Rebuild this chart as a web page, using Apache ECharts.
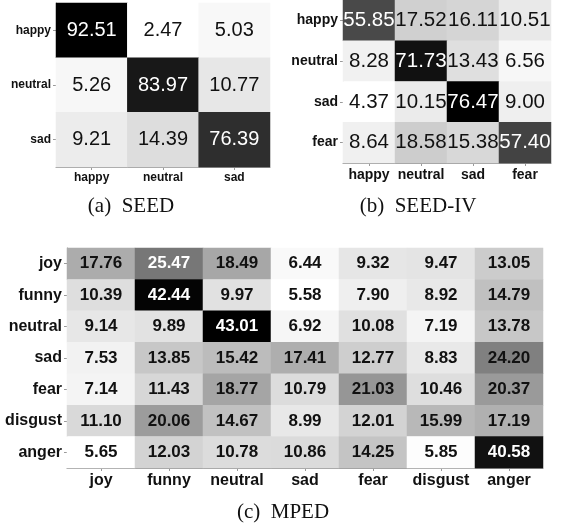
<!DOCTYPE html>
<html><head><meta charset="utf-8">
<script src="https://cdn.jsdelivr.net/npm/echarts@6/dist/echarts.min.js"></script>
<style>html,body{margin:0;padding:0;background:#fff}#c{width:564px;height:528px}</style>
</head><body><div id="c"></div>
<script>
const seedLabels = ['happy','neutral','sad'];
const seedValues = [
  [92.51, 2.47, 5.03],
  [5.26, 83.97, 10.77],
  [9.21, 14.39, 76.39]
];
const seed4Labels = ['happy','neutral','sad','fear'];
const seed4Values = [
  [55.85, 17.52, 16.11, 10.51],
  [8.28, 71.73, 13.43, 6.56],
  [4.37, 10.15, 76.47, 9.00],
  [8.64, 18.58, 15.38, 57.40]
];
const mpedLabels = ['joy','funny','neutral','sad','fear','disgust','anger'];
const mpedValues = [
  [17.76, 25.47, 18.49, 6.44, 9.32, 9.47, 13.05],
  [10.39, 42.44, 9.97, 5.58, 7.90, 8.92, 14.79],
  [9.14, 9.89, 43.01, 6.92, 10.08, 7.19, 13.78],
  [7.53, 13.85, 15.42, 17.41, 12.77, 8.83, 24.20],
  [7.14, 11.43, 18.77, 10.79, 21.03, 10.46, 20.37],
  [11.10, 20.06, 14.67, 8.99, 12.01, 15.99, 17.19],
  [5.65, 12.03, 10.78, 10.86, 14.25, 5.85, 40.58]
];
const captions = ['(a)  SEED', '(b)  SEED-IV', '(c)  MPED'];

function build(mat) {
  const flat = mat.flat();
  const mn = Math.min(...flat), mx = Math.max(...flat);
  const data = [];
  mat.forEach((row, r) => row.forEach((v, c) => {
    const t = (v - mn) / (mx - mn);
    data.push({ value: [c, r, v], label: { color: t > 0.5 ? '#ffffff' : '#111111' } });
  }));
  return { data, mn, mx };
}
const sets = [build(seedValues), build(seed4Values), build(mpedValues)];
const labelsAll = [seedLabels, seed4Labels, mpedLabels];
const grids = [
  { left: 56, top: 3, width: 214, height: 164 },
  { left: 343, top: 0, width: 208, height: 163 },
  { left: 67, top: 248, width: 476, height: 220 }
];
const axisFont = [12, 14, 16];
const cellFont = [20, 20.5, 17];
const cellWeight = ['normal', 'normal', 'bold'];
const capPos = [[131, 206], [418, 206], [283, 512]];

const axisCommon = (i) => ({
  axisLine: { show: true, lineStyle: { color: '#9a9a9a' } },
  axisTick: { show: true, alignWithLabel: true, length: 3, lineStyle: { color: '#9a9a9a' } },
  axisLabel: { interval: 0, hideOverlap: false, fontFamily: 'Liberation Sans, Arial, sans-serif', fontWeight: 'bold', fontSize: axisFont[i], color: '#111', margin: 5 },
  splitLine: { show: false }, splitArea: { show: false }
});

const option = {
  animation: false,
  backgroundColor: '#ffffff',
  grid: grids,
  xAxis: labelsAll.map((l, i) => Object.assign({ type: 'category', data: l, gridIndex: i, position: 'bottom' }, axisCommon(i))),
  yAxis: labelsAll.map((l, i) => Object.assign({ type: 'category', data: l, gridIndex: i, inverse: true }, axisCommon(i))),
  visualMap: sets.map((s, i) => ({
    show: false, type: 'continuous', seriesIndex: i, min: s.mn, max: s.mx, dimension: 2,
    inRange: { color: ['#ffffff', '#000000'] }
  })),
  series: sets.map((s, i) => ({
    type: 'heatmap', xAxisIndex: i, yAxisIndex: i, data: s.data,
    label: {
      show: true, fontFamily: 'Liberation Sans, Arial, sans-serif', fontSize: cellFont[i], fontWeight: cellWeight[i],
      formatter: p => p.value[2].toFixed(2)
    },
    itemStyle: { borderWidth: 0 },
    emphasis: { disabled: true }
  })),
  graphic: captions.map((t, i) => ({
    type: 'text',
    style: { text: t, x: capPos[i][0], y: capPos[i][1], align: 'center', verticalAlign: 'middle', font: '21px "Liberation Serif", serif', fill: '#111' }
  }))
};
const chart = echarts.init(document.getElementById('c'), null, { renderer: 'canvas' });
chart.setOption(option);
</script></body></html>
